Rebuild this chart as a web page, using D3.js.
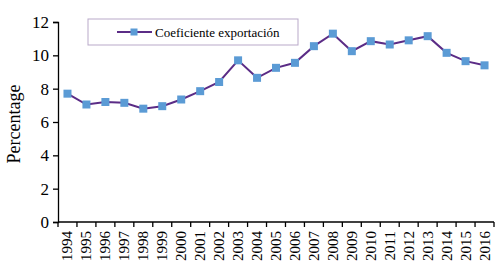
<!DOCTYPE html>
<html>
<head>
<meta charset="utf-8">
<script src="https://cdn.jsdelivr.net/npm/d3@7"></script>
<style>
  body { margin: 0; background: #fff; }
  svg text { font-family: "Liberation Serif", "Times New Roman", serif; fill: #000; }
</style>
</head>
<body>
<svg id="chart" width="500" height="270"></svg>
<script>
// data
const years = ['1994','1995','1996','1997','1998','1999','2000','2001','2002','2003','2004',
    '2005','2006','2007','2008','2009','2010','2011','2012','2013','2014','2015','2016'];
const coeficiente = [7.7, 7.05, 7.2, 7.15, 6.8, 6.95, 7.35, 7.85, 8.4, 9.7, 8.65,
    9.25, 9.55, 10.55, 11.3, 10.25, 10.85, 10.65, 10.9, 11.15, 10.15, 9.65, 9.4];
const yTicks = [0, 2, 4, 6, 8, 10, 12];
const seriesName = 'Coeficiente exportación';

let svg = d3.select('#chart');
let margin = {top: 22, bottom: 48, left: 58, right: 6};
let width = 500 - margin.left - margin.right;
let height = 270 - margin.top - margin.bottom;

let xScale = d3.scaleBand().domain(years).range([0, width]);
let yScale = d3.scaleLinear().domain([0, 12]).range([height, 0]);

let g = svg.append('g').attr('transform', `translate(${margin.left},${margin.top})`);

// y axis
let yAxis = d3.axisLeft(yScale).tickValues(yTicks).tickSize(5).tickPadding(4).tickFormat(d3.format('d'));
g.append('g').call(yAxis)
    .call(a => a.select('.domain').attr('stroke', '#000').attr('stroke-width', 1.3))
    .call(a => a.selectAll('.tick line').attr('stroke', '#000').attr('stroke-width', 1.3))
    .selectAll('text').style('font-size', '17px');

// x axis: ticks on band edges, labels in band centers
let xAxisG = g.append('g').attr('transform', `translate(0,${height})`);
xAxisG.append('line')
    .attr('x1', 0).attr('x2', width)
    .attr('stroke', '#000').attr('stroke-width', 1.3);
let edges = years.map(y => xScale(y)).concat([width]);
xAxisG.selectAll('line.tk').data(edges).enter().append('line')
    .attr('class', 'tk')
    .attr('x1', d => d).attr('x2', d => d)
    .attr('y1', 0).attr('y2', 5)
    .attr('stroke', '#000').attr('stroke-width', 1.3);
xAxisG.selectAll('text').data(years).enter().append('text')
    .attr('transform', d => `translate(${xScale(d) + xScale.bandwidth() / 2 + 5},${9}) rotate(-90)`)
    .style('text-anchor', 'end')
    .style('font-size', '15px')
    .text(d => d);

// y axis title
svg.append('text')
    .attr('transform', `translate(20,124) rotate(-90)`)
    .style('text-anchor', 'middle')
    .style('font-size', '18px')
    .text('Percentage');

// line
let line = d3.line()
    .x((d, i) => xScale(years[i]) + xScale.bandwidth() / 2)
    .y(d => yScale(d));
g.append('path')
    .datum(coeficiente)
    .attr('d', line)
    .attr('fill', 'none')
    .attr('stroke', '#5b2c86')
    .attr('stroke-width', 2);

// markers
let ms = 8;
g.selectAll('rect.pt').data(coeficiente).enter().append('rect')
    .attr('class', 'pt')
    .attr('x', (d, i) => xScale(years[i]) + xScale.bandwidth() / 2 - ms / 2)
    .attr('y', d => yScale(d) - ms / 2)
    .attr('width', ms).attr('height', ms)
    .attr('fill', '#5b9bd5');

// legend
let legend = svg.append('g').attr('transform', 'translate(88,19)');
legend.append('rect')
    .attr('width', 210).attr('height', 26)
    .attr('fill', '#fff')
    .attr('stroke', '#b9a9c9').attr('stroke-width', 1);
legend.append('line')
    .attr('x1', 29).attr('x2', 64).attr('y1', 13).attr('y2', 13)
    .attr('stroke', '#5b2c86').attr('stroke-width', 2);
legend.append('rect')
    .attr('x', 46 - 3.5).attr('y', 13 - 3.5)
    .attr('width', 7).attr('height', 7)
    .attr('fill', '#5b9bd5');
legend.append('text')
    .attr('x', 67).attr('y', 18)
    .style('font-size', '13px')
    .text(seriesName);
</script>
</body>
</html>
